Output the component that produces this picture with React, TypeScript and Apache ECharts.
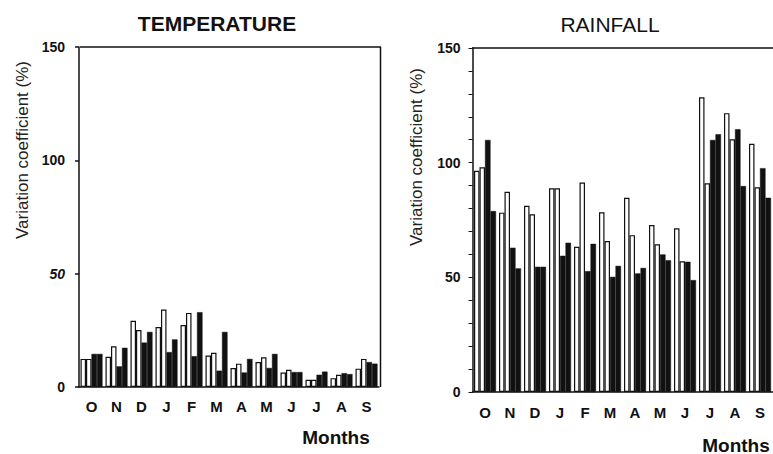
import React, { useEffect, useRef } from 'react';
import * as echarts from 'echarts';

const months = ['O', 'N', 'D', 'J', 'F', 'M', 'A', 'M', 'J', 'J', 'A', 'S'];

const tempWhite1 = [12.4, 13.3, 29.2, 26.5, 27.3, 13.9, 8.4, 11.0, 6.4, 3.2, 3.9, 8.1];
const tempWhite2 = [12.4, 18.0, 25.1, 34.2, 32.7, 15.1, 10.3, 13.1, 7.6, 3.2, 5.4, 12.4];
const tempBlack1 = [14.6, 9.1, 19.6, 15.4, 13.6, 7.2, 6.4, 8.4, 6.6, 5.4, 6.1, 11.0];
const tempBlack2 = [14.6, 17.3, 24.3, 21.0, 33.0, 24.3, 12.4, 14.6, 6.6, 6.8, 5.7, 10.3];

const rainWhite1 = [96.5, 78.2, 81.2, 88.8, 63.3, 78.4, 84.7, 72.8, 71.4, 128.5, 121.6, 108.2];
const rainWhite2 = [98.0, 87.3, 77.5, 88.8, 91.3, 65.8, 68.4, 64.4, 57.0, 91.0, 110.2, 89.3];
const rainBlack1 = [109.9, 62.9, 54.6, 59.4, 52.7, 50.2, 51.7, 60.0, 56.8, 109.9, 114.6, 97.6];
const rainBlack2 = [78.9, 53.9, 54.6, 65.1, 64.6, 55.0, 54.1, 57.5, 48.8, 112.4, 89.8, 84.7];

const FONT = 'Liberation Sans, Arial, sans-serif';

function whiteBar(data: number[], idx: number) {
  return {
    type: 'bar',
    xAxisIndex: idx,
    yAxisIndex: idx,
    data,
    barGap: '0%',
    barCategoryGap: '12%',
    itemStyle: { color: '#ffffff', borderColor: '#111', borderWidth: 1.2 },
  };
}
function blackBar(data: number[], idx: number) {
  return {
    type: 'bar',
    xAxisIndex: idx,
    yAxisIndex: idx,
    data,
    barGap: '0%',
    barCategoryGap: '12%',
    itemStyle: { color: '#111', borderColor: '#111', borderWidth: 0.5 },
  };
}

export default function App() {
  const ref = useRef<HTMLDivElement>(null);
  useEffect(() => {
    if (!ref.current) return;
    const chart = echarts.init(ref.current, null, { renderer: 'svg' });
    const xAxisBase = {
      type: 'category',
      data: months,
      axisLine: { lineStyle: { color: '#111', width: 1.5 } },
      axisTick: { alignWithLabel: true, length: 5, lineStyle: { color: '#111', width: 1.5 } },
      axisLabel: { color: '#111', fontFamily: FONT, fontWeight: 'bold', fontSize: 15, margin: 12 },
    };
    chart.setOption({
      animation: false,
      grid: [
        { left: 79, top: 47, width: 300, height: 340 },
        { left: 472.5, top: 48, width: 300, height: 344 },
      ],
      xAxis: [
        { ...xAxisBase, gridIndex: 0 },
        { ...xAxisBase, gridIndex: 1, axisLabel: { ...xAxisBase.axisLabel, margin: 13 } },
      ],
      yAxis: [
        {
          type: 'value',
          gridIndex: 0,
          min: 0,
          max: 150,
          interval: 50,
          splitLine: { show: false },
          axisLine: { show: true, lineStyle: { color: '#111', width: 1.5 } },
          axisTick: { show: true, length: 4, lineStyle: { color: '#111', width: 1.5 } },
          axisLabel: {
            color: '#111',
            fontFamily: FONT,
            fontWeight: 'bold',
            fontSize: 14,
            margin: 14,
            formatter: (v: number) => (v === 50 ? '{i|50}' : String(v)),
            rich: { i: { fontStyle: 'italic', fontWeight: 'bold', fontSize: 14, fontFamily: FONT, color: '#111' } },
          },
        },
        {
          type: 'value',
          gridIndex: 1,
          min: 0,
          max: 150,
          interval: 10,
          splitLine: { show: false },
          axisLine: { show: true, lineStyle: { color: '#111', width: 1.5 } },
          axisTick: { show: true, length: 4, lineStyle: { color: '#111', width: 1 } },
          axisLabel: {
            color: '#111',
            fontFamily: FONT,
            fontWeight: 'bold',
            fontSize: 14,
            margin: 12,
            formatter: (v: number) => (v % 50 === 0 ? String(v) : ''),
          },
        },
      ],
      series: [
        whiteBar(tempWhite1, 0),
        whiteBar(tempWhite2, 0),
        blackBar(tempBlack1, 0),
        blackBar(tempBlack2, 0),
        whiteBar(rainWhite1, 1),
        whiteBar(rainWhite2, 1),
        blackBar(rainBlack1, 1),
        blackBar(rainBlack2, 1),
      ],
      graphic: [
        {
          type: 'text',
          x: 217,
          y: 23,
          style: {
            text: 'TEMPERATURE',
            fontFamily: FONT,
            fontWeight: 'bold',
            fontSize: 21,
            fill: '#111',
            textAlign: 'center',
            textVerticalAlign: 'middle',
          },
        },
        {
          type: 'text',
          x: 610,
          y: 24,
          style: {
            text: 'RAINFALL',
            fontFamily: FONT,
            fontSize: 21,
            fill: '#111',
            textAlign: 'center',
            textVerticalAlign: 'middle',
          },
        },
        {
          type: 'text',
          x: 336,
          y: 437,
          style: {
            text: 'Months',
            fontFamily: FONT,
            fontWeight: 'bold',
            fontSize: 19,
            fill: '#111',
            textAlign: 'center',
            textVerticalAlign: 'middle',
          },
        },
        {
          type: 'text',
          x: 736,
          y: 445,
          style: {
            text: 'Months',
            fontFamily: FONT,
            fontWeight: 'bold',
            fontSize: 19,
            fill: '#111',
            textAlign: 'center',
            textVerticalAlign: 'middle',
          },
        },
        {
          type: 'text',
          x: 22,
          y: 150,
          rotation: Math.PI / 2,
          style: {
            text: 'Variation coefficient (%)',
            fontFamily: FONT,
            fontSize: 17,
            fill: '#222',
            textAlign: 'center',
            textVerticalAlign: 'middle',
          },
        },
        {
          type: 'text',
          x: 416,
          y: 157,
          rotation: Math.PI / 2,
          style: {
            text: 'Variation coefficient (%)',
            fontFamily: FONT,
            fontSize: 17,
            fill: '#222',
            textAlign: 'center',
            textVerticalAlign: 'middle',
          },
        },
        {
          type: 'line',
          shape: { x1: 80, y1: 47, x2: 381, y2: 47 },
          style: { stroke: '#111', lineWidth: 1.5 },
        },
        {
          type: 'line',
          shape: { x1: 380.5, y1: 47, x2: 380.5, y2: 387 },
          style: { stroke: '#111', lineWidth: 1.5 },
        },
        {
          type: 'line',
          shape: { x1: 472, y1: 48, x2: 773, y2: 48 },
          style: { stroke: '#111', lineWidth: 1.5 },
        },
      ],
    });
    return () => chart.dispose();
  }, []);
  return (
    <div
      ref={ref}
      style={{ position: 'fixed', left: 0, top: 0, width: 773, height: 454, background: '#fff' }}
    />
  );
}
